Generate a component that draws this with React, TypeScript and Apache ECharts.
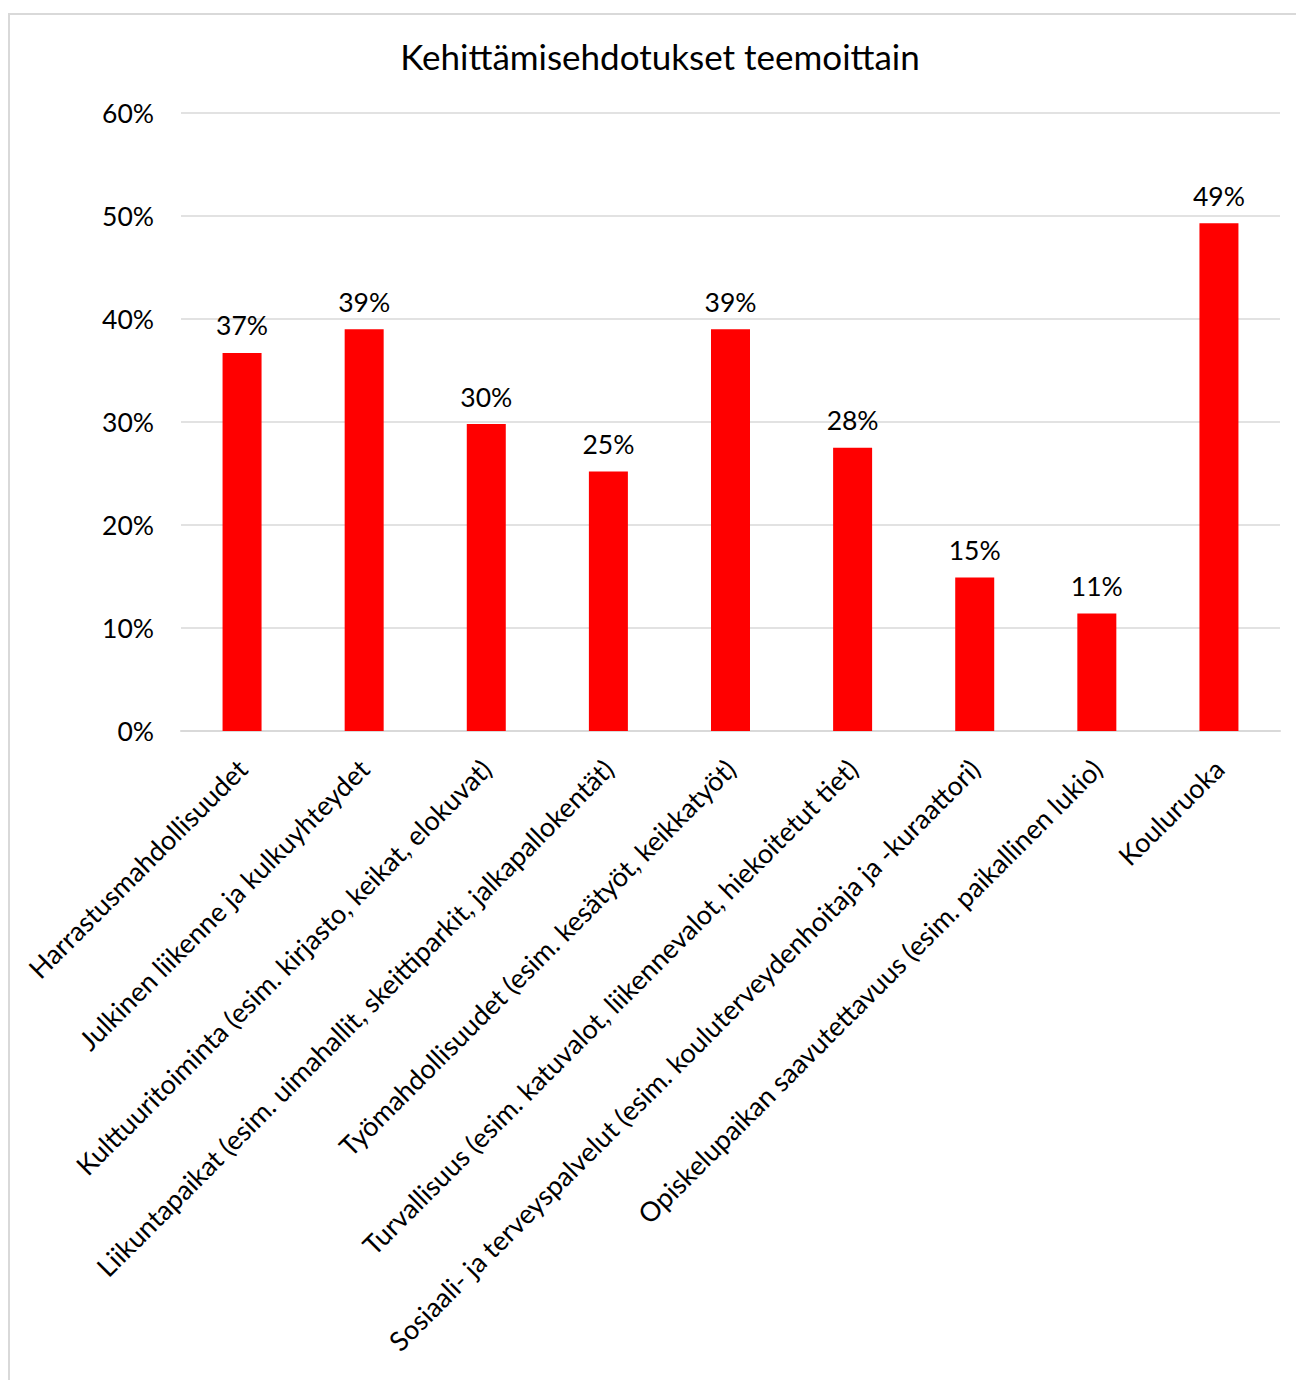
import React, { useEffect, useRef } from "react";
import * as echarts from "echarts";

const titleText = "Kehittämisehdotukset teemoittain";
const categories = [
  "Harrastusmahdollisuudet",
  "Julkinen liikenne ja kulkuyhteydet",
  "Kulttuuritoiminta (esim. kirjasto, keikat, elokuvat)",
  "Liikuntapaikat (esim. uimahallit, skeittiparkit, jalkapallokentät)",
  "Työmahdollisuudet (esim. kesätyöt, keikkatyöt)",
  "Turvallisuus (esim. katuvalot, liikennevalot, hiekoitetut tiet)",
  "Sosiaali- ja terveyspalvelut (esim. kouluterveydenhoitaja ja -kuraattori)",
  "Opiskelupaikan saavutettavuus (esim. paikallinen lukio)",
  "Kouluruoka",
];
const values = [0.367, 0.39, 0.298, 0.252, 0.39, 0.275, 0.149, 0.114, 0.493];
const yTicks = [0, 0.1, 0.2, 0.3, 0.4, 0.5, 0.6];

const FONT = "Lato";

export default function App() {
  const ref = useRef<HTMLDivElement>(null);
  useEffect(() => {
    if (!ref.current) return;
    const chart = echarts.init(ref.current, undefined, { renderer: "svg" });
    chart.setOption({
      animation: false,
      backgroundColor: "#ffffff",
      textStyle: { fontFamily: FONT },
      graphic: [
        {
          type: "rect",
          shape: { x: 9, y: 14, width: 2000, height: 2000 },
          style: { fill: "none", stroke: "#d9d9d9", lineWidth: 2 },
          silent: true,
        },
      ],
      title: {
        text: titleText,
        left: 655,
        top: 33,
        textAlign: "center",
        textStyle: { fontFamily: FONT, fontSize: 35, fontWeight: "normal", color: "#000000" },
      },
      grid: { left: 181, right: 16, top: 113, bottom: 649, containLabel: false },
      xAxis: {
        type: "category",
        data: categories,
        axisLine: { show: true, lineStyle: { color: "#d9d9d9", width: 2 } },
        axisTick: { show: false },
        axisLabel: {
          rotate: 45,
          interval: 0,
          margin: 33,
          fontFamily: FONT,
          fontSize: 27,
          color: "#000000",
        },
      },
      yAxis: {
        type: "value",
        min: yTicks[0],
        max: yTicks[yTicks.length - 1],
        interval: 0.1,
        axisLine: { show: false },
        axisTick: { show: false },
        splitLine: { lineStyle: { color: "#d9d9d9", width: 1.5 } },
        axisLabel: {
          margin: 27,
          fontFamily: FONT,
          fontSize: 26.5,
          color: "#000000",
          formatter: (v: number) => Math.round(v * 100) + "%",
        },
      },
      series: [
        {
          type: "bar",
          data: values,
          barWidth: 39,
          itemStyle: { color: "#ff0000" },
          label: {
            show: true,
            position: "top",
            distance: 14,
            fontFamily: FONT,
            fontSize: 26.5,
            color: "#000000",
            formatter: (p: any) => Math.round(p.value * 100) + "%",
          },
        },
      ],
    });
    return () => chart.dispose();
  }, []);
  return (
    <div
      ref={ref}
      style={{ position: "fixed", left: 0, top: 0, width: 1296, height: 1380 }}
    />
  );
}
